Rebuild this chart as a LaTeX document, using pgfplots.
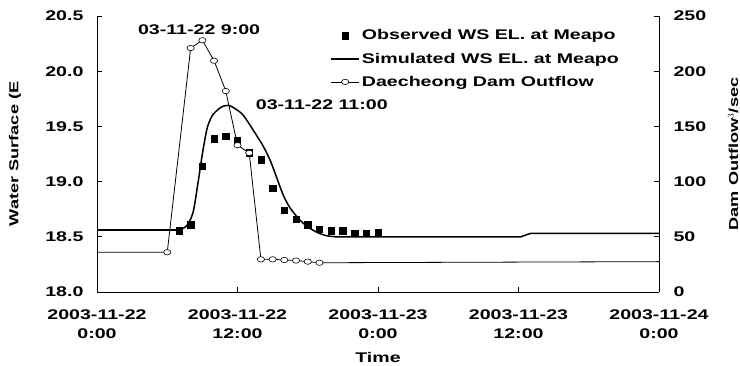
\documentclass[border=0pt]{standalone}
\usepackage{pgfplots}
\pgfplotsset{compat=1.18}
\usepackage{fontspec}
\setmainfont{Liberation Sans}[FakeStretch=1.4]

\pgfplotstableread{
h ws
7 18.555
8 18.61
9 19.14
10 19.39
11 19.41
12 19.37
13 19.26
14 19.20
15 18.94
16 18.74
17 18.66
18 18.61
19 18.57
20 18.555
21 18.555
22 18.53
23 18.53
24 18.54
}\observed

\pgfplotstableread{
h ws
0 18.56
7.0 18.56
}\simflatA

\pgfplotstableread{
h ws
7.0 18.56
7.66 18.60
8.2 18.72
8.6 18.97
9.0 19.25
9.4 19.48
9.8 19.59
10.2 19.64
10.7 19.68
11.25 19.69
11.8 19.66
12.5 19.60
13.5 19.44
14.2 19.32
14.8 19.19
15.3 19.05
15.9 18.88
16.5 18.76
17.35 18.65
18.0 18.59
18.8 18.54
19.6 18.51
20.4 18.50
}\simhump

\pgfplotstableread{
h ws
20.4 18.50
36.2 18.50
37.0 18.53
48 18.53
}\simflatB

\pgfplotstableread{
h q
0 36
6 36
8 221
9 228
10 209.5
11 182
12 133
13 126
14 29.6
15 29.6
16 29
17 28.5
18 27.5
19 26.5
48 27.5
}\outflow

\begin{document}
\begin{tikzpicture}
\pgfplotsset{
  every axis/.append style={
    scale only axis, width=562pt, height=276pt,
    xmin=0, xmax=48,
    font=\fontsize{14}{18}\selectfont\bfseries,
    /pgf/number format/assume math mode=true,
    tick align=inside, major tick length=5pt, minor tick num=0,
    axis line style={line width=0.9pt, black},
    tick style={line width=0.8pt, black},
    legend image code/.code={\draw[mark repeat=2,mark phase=2,##1] plot coordinates {(0pt,0pt) (14pt,0pt) (28pt,0pt)};},
  },
  outflowstyle/.style={black, line width=0.8pt, mark=*, mark size=2.7pt, mark options={xscale=1.35, fill=white, solid, line width=0.6pt}},
  simstyle/.style={black, line width=1.5pt, no marks},
}
\begin{axis}[
  axis x line*=bottom, axis y line*=left,
  ymin=18, ymax=20.5, ytick={18,18.5,19,19.5,20,20.5},
  yticklabel style={/pgf/number format/fixed, /pgf/number format/fixed zerofill, /pgf/number format/precision=1, xshift=-10pt},
  xtick={0,12,24,36,48},
  xticklabels={{2003-11-22\\0:00},{2003-11-22\\12:00},{2003-11-23\\0:00},{2003-11-23\\12:00},{2003-11-24\\0:00}},
  xticklabel style={align=center, font=\fontsize{14}{19}\selectfont\bfseries, yshift=-14pt},
  xlabel={Time},
  xlabel style={at={(axis description cs:0.5,-0.2355)}, anchor=center},
  ylabel={\fontsize{13}{15}\selectfont Water Surface (E},
  ylabel style={at={(axis description cs:-0.146,0.5)}, anchor=center, rotate=0},
  legend cell align=left,
  legend style={draw=none, fill=none, at={(axis description cs:0.415,0.958)}, anchor=north west,
    row sep=7.5pt, font=\fontsize{14}{16}\selectfont\bfseries, inner sep=0pt},
  clip=false,
]
\addplot[only marks, mark=square*, mark size=3.2pt, black] table[x=h, y=ws] {\observed};
\addlegendentry{Observed WS EL. at Meapo}
\addplot[simstyle, smooth, tension=0.5] table[x=h, y=ws] {\simhump};
\addlegendentry{Simulated WS EL. at Meapo}
\addlegendimage{outflowstyle}
\addlegendentry{Daecheong Dam Outflow}
\addplot[simstyle, forget plot] table[x=h, y=ws] {\simflatA};
\addplot[simstyle, forget plot] table[x=h, y=ws] {\simflatB};
\node at (axis cs:8.72,20.38) {03-11-22 9:00};
\node at (axis cs:19.2,19.70) {03-11-22 11:00};
\end{axis}
\begin{axis}[
  axis y line*=right, axis x line=none,
  ymin=0, ymax=250, ytick={0,50,100,150,200,250},
  yticklabel style={xshift=11pt},
  ylabel={\fontsize{13}{15}\selectfont Dam Outflow$^{3}$/sec},
  ylabel style={at={(axis description cs:1.132,0.5)}, anchor=center, rotate=0},
]
\addplot[outflowstyle, mark indices={2,...,14}] table[x=h, y=q] {\outflow};
\end{axis}
\pgfresetboundingbox
\useasboundingbox (-97pt,-73pt) rectangle (643pt,292pt);
\end{tikzpicture}
\end{document}
